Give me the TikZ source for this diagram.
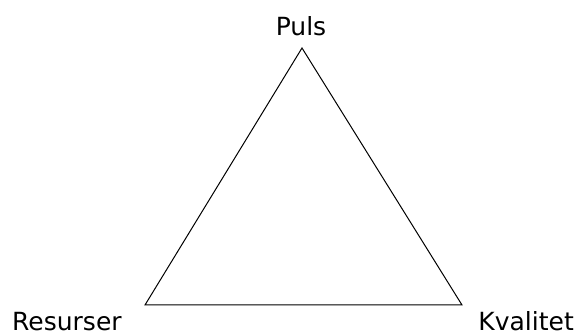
\documentclass[tikz,border=0pt]{standalone}
\usepackage{fontspec}
\setmainfont{DejaVu Sans}
\usetikzlibrary{positioning}

\begin{document}
\begin{tikzpicture}[x=1pt, y=1pt, every node/.style={font=\fontsize{25}{30}\selectfont, inner sep=0pt, text depth=0pt}, side/.style={draw, line width=1pt, line join=miter}]
  \useasboundingbox (0,0) rectangle (582,335);
  % corners of the triangle
  \coordinate (top) at (302,287);
  \coordinate (left) at (145,30);
  \coordinate (right) at (462,30);
  \draw[side] (top) -- (left) -- (right) -- cycle;
  % labels
  \node[anchor=base] (puls) at (301,299) {Puls};
  \node[anchor=base west] (resurser) at (12,4.5) {Resurser};
  \node[anchor=base east] (kvalitet) at (574,4.5) {Kvalitet};
\end{tikzpicture}
\end{document}
